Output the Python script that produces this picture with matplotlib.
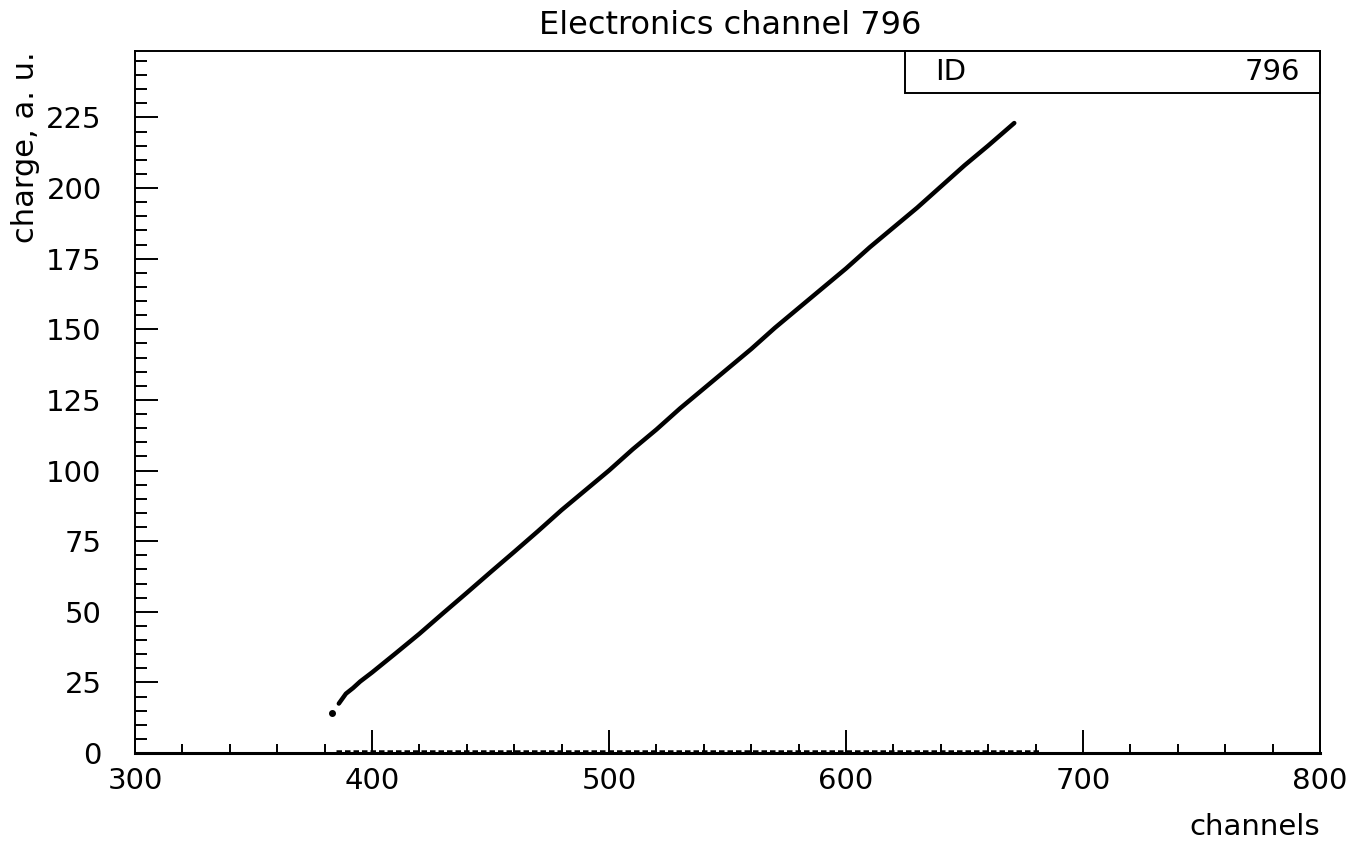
import numpy as np
import matplotlib
matplotlib.use('Agg')
import matplotlib.pyplot as plt
from matplotlib.patches import Rectangle
from matplotlib.ticker import MultipleLocator

# channel -> charge
channels = [383, 386, 389, 392, 395, 400, 410, 420, 430, 440, 450, 460, 470,
            480, 490, 500, 510, 520, 530, 540, 550, 560, 570, 580, 590, 600,
            610, 620, 630, 640, 650, 660, 671]
charge = [14, 17.5, 21, 23, 25.3, 28.5, 35.3, 42.2, 49.5, 56.7, 64, 71.2, 78.5,
          86, 93, 100, 107.5, 114.5, 122, 129, 136, 143, 150.5, 157.5, 164.5, 171.5,
          179, 186, 193, 200.5, 208, 215, 223]

# entries sitting at ~0 charge along the bottom
zero_channels = [385, 682]
zero_charge = [0.8, 0.8]

channel_id = 796

plt.rcParams['font.family'] = ['DejaVu Sans']

fig = plt.figure(figsize=(13.63, 8.43), dpi=100)
ax = fig.add_axes([135 / 1363, 1 - 753 / 843, 1185 / 1363, 702 / 843])

# isolated first point, then the dense run of points
ax.plot(channels[:1], charge[:1], 'o', color='black', ms=4)
ax.plot(channels[1:], charge[1:], '-', color='black', lw=3.2,
        solid_capstyle='round')
ax.plot(zero_channels, zero_charge, color='black', lw=1.8,
        linestyle=(0, (2.2, 1.2)))

ax.set_xlim(300, 800)
ax.set_ylim(0, 248.5)

ax.xaxis.set_major_locator(MultipleLocator(100))
ax.xaxis.set_minor_locator(MultipleLocator(20))
ax.yaxis.set_major_locator(MultipleLocator(25))
ax.yaxis.set_minor_locator(MultipleLocator(5))

ax.tick_params(axis='both', which='both', direction='in', width=1.4,
               labelsize=21, colors='black')
ax.tick_params(axis='x', which='major', length=16.5, pad=10)
ax.tick_params(axis='x', which='minor', length=6.5)
ax.tick_params(axis='y', which='major', length=16.5, pad=24)
ax.tick_params(axis='y', which='minor', length=8.5)

for side in ['left', 'top', 'right']:
    ax.spines[side].set_linewidth(1.4)
ax.spines['bottom'].set_linewidth(2.2)

# stats box in the top right corner
ax.add_patch(Rectangle((0.65, 0.94), 0.35, 0.06, transform=ax.transAxes,
                       facecolor='white', edgecolor='black', lw=1.4,
                       clip_on=False, zorder=5))
ax.text(0.675, 0.97, 'ID', transform=ax.transAxes, ha='left', va='center',
        fontsize=21, zorder=6)
ax.text(0.983, 0.97, str(channel_id), transform=ax.transAxes, ha='right',
        va='center', fontsize=21, zorder=6)

fig.text(730 / 1363, 1 - 26 / 843, 'Electronics channel %d' % channel_id,
         ha='center', va='center', fontsize=23)
fig.text(1320 / 1363, 1 - 827 / 843, 'channels', ha='right', va='center',
         fontsize=21)
fig.text(26 / 1363, 1 - 51 / 843, 'charge, a. u.', ha='center', va='top',
         rotation=90, fontsize=22)

fig.savefig('out.png', dpi=100, facecolor='white')
